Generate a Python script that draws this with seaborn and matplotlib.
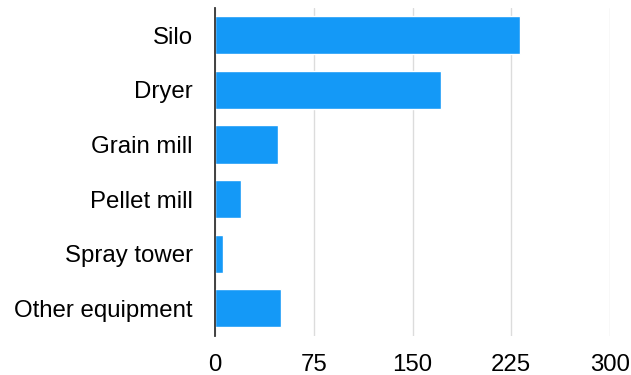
import matplotlib
matplotlib.use("Agg")
import matplotlib.pyplot as plt
import seaborn as sns
import pandas as pd

categories = ["Silo", "Dryer", "Grain mill", "Pellet mill", "Spray tower", "Other equipment"]
values = [232, 172, 48, 19.5, 6, 50]
x_ticks = [0, 75, 150, 225, 300]

df = pd.DataFrame({"category": categories, "value": values})

sns.set_style("white")
plt.rcParams["font.family"] = ["Liberation Sans", "DejaVu Sans"]

fig = plt.figure(figsize=(6.31, 3.75), dpi=100)
ax = fig.add_axes([215 / 631, 1 - 335.5 / 375, (610 - 215) / 631, (335.5 - 8) / 375])

sns.barplot(data=df, x="value", y="category", orient="h", color="#1499F7",
            saturation=1, width=0.7, ax=ax, zorder=3)

ax.set_xlim(0, 300)
ax.set_xticks(x_ticks)
ax.set_xticklabels([str(t) for t in x_ticks])
ax.set_xlabel("")
ax.set_ylabel("")
ax.grid(axis="x", color="#DCDCDC", linewidth=1, zorder=0)
ax.grid(axis="y", visible=False)
for s in ["top", "right", "bottom"]:
    ax.spines[s].set_visible(False)
ax.spines["left"].set_color("#333333")
ax.spines["left"].set_linewidth(1.3)
ax.spines["left"].set_zorder(4)
ax.tick_params(axis="x", length=0, pad=13, labelsize=17.3, labelcolor="#000000")
ax.tick_params(axis="y", length=0, pad=16, labelsize=17.3, labelcolor="#000000")

fig.savefig("out.png", dpi=100)
